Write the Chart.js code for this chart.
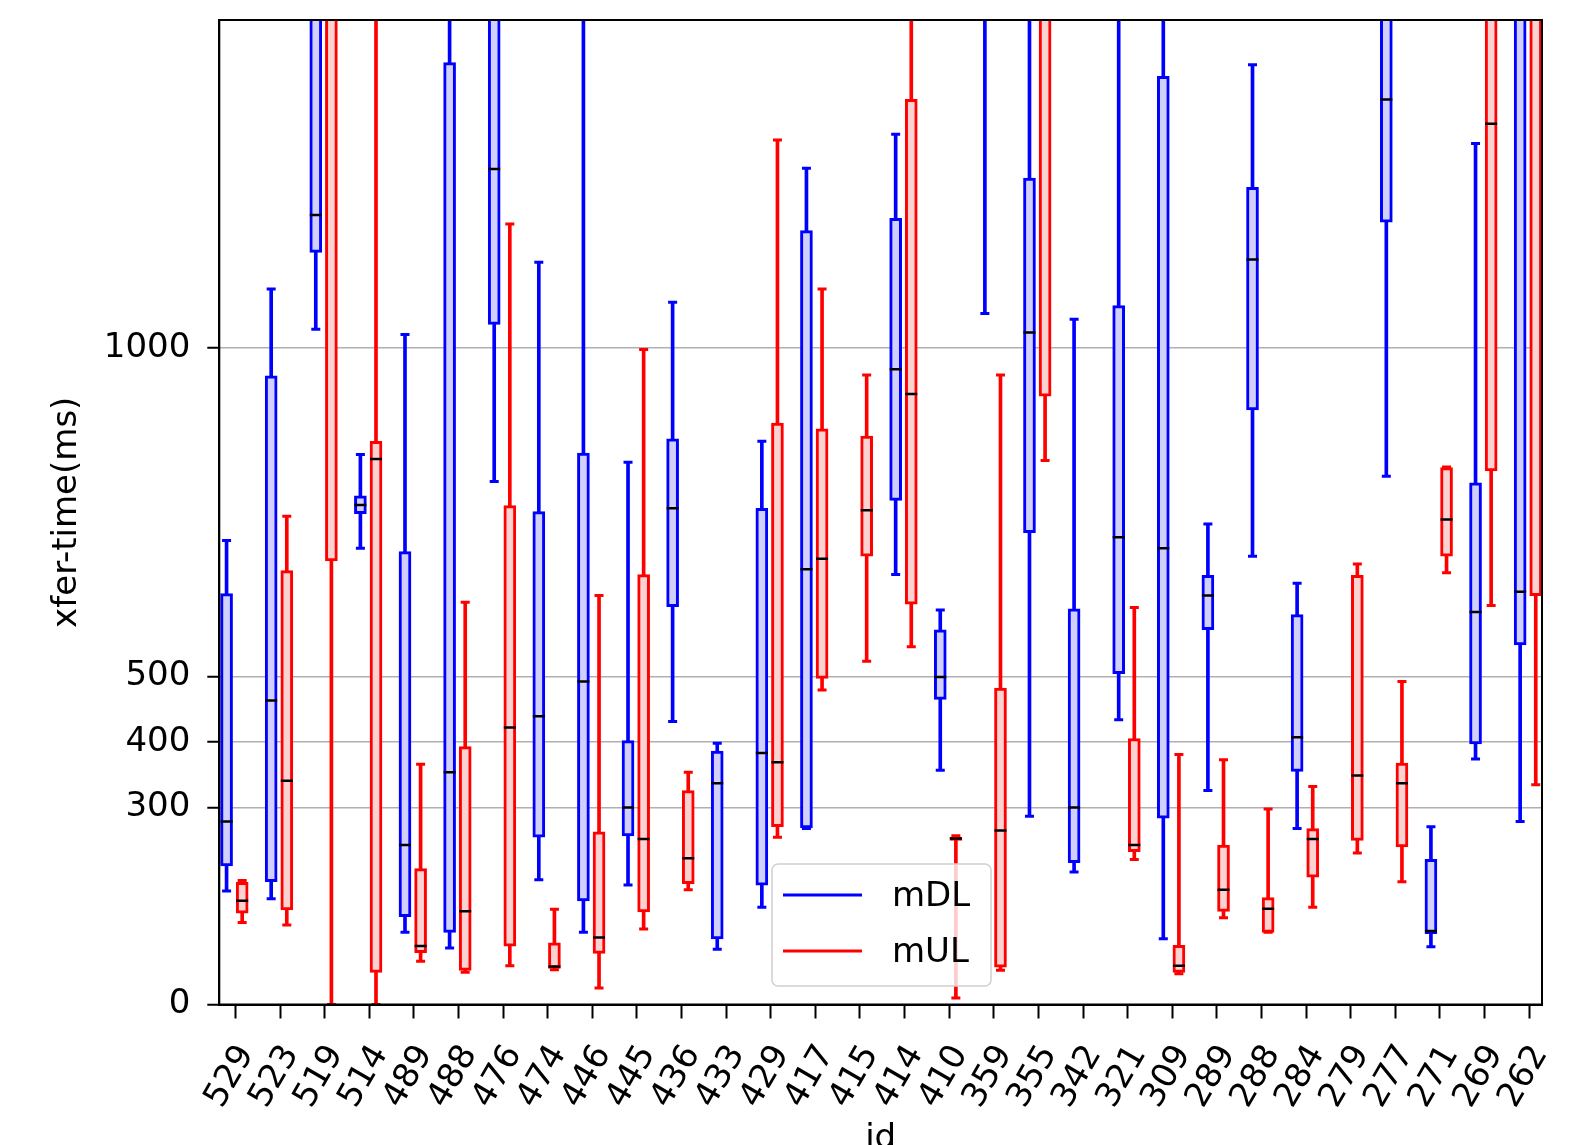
<!DOCTYPE html>
<html>
<head>
<meta charset="utf-8">
<script src="https://cdn.jsdelivr.net/npm/chart.js@4.4.1/dist/chart.umd.min.js"></script>
<style>
  html, body { margin: 0; padding: 0; background: #fff; }
  #wrap { width: 1589px; height: 1145px; overflow: hidden; }
</style>
</head>
<body>
<div id="wrap"><canvas id="chart" width="1589" height="1145"></canvas></div>
<script>
const ids = ["529","523","519","514","489","488","476","474","446","445","436","433","429","417","415",
  "414","410","359","355","342","321","309","289","288","284","279","277","271","269","262"]
const yTicks = [0, 300, 400, 500, 1000]

// mDL: lower whisker, q1, median, q3, upper whisker (null = no box for that id)
const dlMin = [173,161,1029,695,110,86,797,190,110,182,431,84,148,268,null,655,357,1053,287,202,434,100,326,683,268,null,805,88,374,279]
const dlQ1  = [211,187,1146,748,134,110,1036,255,158,257,606,100,182,269,null,768,465,1600,719,216,504,284,571,906,355,null,1192,108,397,548]
const dlMed = [279,463,1203,761,243,354,1273,439,492,300,756,337,383,663,null,968,499,1700,1024,300,712,695,623,1135,407,null,1379,112,598,629]
const dlQ3  = [626,958,1600,775,690,1435,1600,751,840,402,862,386,756,1179,null,1198,571,1800,1259,603,1065,1414,654,1245,594,null,1600,221,795,1600]
const dlMax = [707,1090,1900,838,1021,1700,1900,1131,1700,826,1070,398,858,1274,null,1326,601,2000,1700,1044,1700,1700,732,1432,642,null,1900,271,1312,1900]

// mUL
const ulMin = [125,121,0,0,66,49,59,53,25,115,175,null,255,479,523,545,10,52,829,null,221,47,132,110,148,231,187,658,608,335]
const ulQ1  = [139,144,676,49,79,52,89,55,78,141,184,null,271,497,683,610,250,57,927,null,233,49,142,110,194,250,240,683,813,623]
const ulMed = [158,341,1600,831,89,142,422,58,102,252,223,null,369,679,753,930,253,265,1600,null,243,59,175,146,252,349,337,739,1342,1600]
const ulQ3  = [186,661,1800,858,207,393,760,94,263,655,326,null,886,877,866,1379,255,482,1800,null,405,90,243,163,268,654,368,818,1600,1800]
const ulMax = [189,744,2200,1700,366,613,1189,145,623,998,354,null,1317,1090,959,1700,257,959,2000,null,605,381,373,298,332,671,492,819,1900,2000]

const FONT = "DejaVu Sans"
Chart.defaults.font.family = FONT

function points(offset, values){
  return ids.map((id, i) => values[i] == null ? null : { x: i + offset, y: values[i] }).filter(Boolean)
}

function ranges(offset, lo, hi){
  return ids.map((id, i) => lo[i] == null ? null : { x: i + offset, y: [lo[i], hi[i]] }).filter(Boolean)
}

function boxSeries(label, offset, color, fill, mins, q1, med, q3, maxs){
  return [
    {
      type: "bar", label: label + " whisker", data: ranges(offset, mins, maxs),
      backgroundColor: color, borderWidth: 0, barThickness: 3, grouped: false, order: 3
    },
    {
      type: "bar", label: label, isBox: true, data: ranges(offset, q1, q3),
      backgroundColor: fill, borderColor: color, borderWidth: 3, borderSkipped: false,
      barThickness: 12, grouped: false, order: 2
    },
    {
      type: "scatter", label: label + " caps", data: points(offset, mins).concat(points(offset, maxs)),
      pointStyle: "line", radius: 4.5, borderColor: color, borderWidth: 3, order: 1
    },
    {
      type: "scatter", label: label + " median", data: points(offset, med),
      pointStyle: "line", radius: 6, borderColor: "#000", borderWidth: 2.5, order: 0
    }
  ]
}

const datasets = [].concat(
  boxSeries("mDL", -0.2, "#0000ff", "#d0d0fb", dlMin, dlQ1, dlMed, dlQ3, dlMax),
  boxSeries("mUL", 0.15, "#ff0000", "#fbd2d2", ulMin, ulQ1, ulMed, ulQ3, ulMax)
)

// top/right spines like matplotlib
const framePlugin = {
  id: "frame",
  afterDatasetsDraw(chart){
    const {ctx, chartArea: a} = chart
    ctx.save()
    ctx.strokeStyle = "#000"
    ctx.lineWidth = 2
    ctx.strokeRect(a.left, a.top, a.right - a.left, a.bottom - a.top)
    ctx.restore()
  }
}

// legend drawn inside the plot, near the bottom middle
const boxLegend = {
  id: "boxLegend",
  afterDraw(chart){
    const ctx = chart.ctx
    const entries = chart.data.datasets.filter(d => d.isBox)
    const x = 772, y = 864, w = 219, h = 122
    ctx.save()
    ctx.beginPath()
    ctx.roundRect(x, y, w, h, 6)
    ctx.fillStyle = "rgba(255,255,255,0.8)"
    ctx.fill()
    ctx.strokeStyle = "#d0d0d0"
    ctx.lineWidth = 1.5
    ctx.stroke()
    ctx.font = "34px \"" + FONT + "\""
    ctx.textBaseline = "middle"
    entries.forEach((d, i) => {
      const ly = y + 31 + i * 56
      ctx.strokeStyle = d.borderColor
      ctx.lineWidth = 3
      ctx.beginPath()
      ctx.moveTo(x + 11, ly)
      ctx.lineTo(x + 90, ly)
      ctx.stroke()
      ctx.fillStyle = "#000"
      ctx.fillText(d.label, x + 120, ly + 2)
    })
    ctx.restore()
  }
}

new Chart(document.getElementById("chart"), {
  type: "bar",
  data: { datasets },
  options: {
    responsive: false,
    animation: false,
    events: [],
    layout: { padding: { top: 20, right: 47, left: 0, bottom: 0 } },
    plugins: { legend: { display: false }, tooltip: { enabled: false } },
    scales: {
      x: {
        type: "linear",
        offset: false,
        min: -0.363,
        max: 29.29,
        afterBuildTicks: s => { s.ticks = ids.map((id, i) => ({ value: i })) },
        afterFit: s => { s.height = 140.5; s.paddingLeft = 0; s.paddingRight = 0 },
        ticks: {
          autoSkip: false, minRotation: 60, maxRotation: 60, padding: 20, labelOffset: 11,
          color: "#000", font: { size: 34 },
          callback: v => ids[v]
        },
        grid: { offset: false, drawOnChartArea: false, drawTicks: true, tickLength: 14, tickWidth: 2, tickColor: "#000" },
        border: { color: "#000", width: 2 },
        title: { display: true, text: "id", color: "#000", font: { size: 34 }, padding: { top: 0, bottom: -15 } }
      },
      y: {
        type: "linear",
        min: 0,
        max: 1500,
        stacked: false,
        afterBuildTicks: s => { s.ticks = yTicks.map(v => ({ value: v })) },
        afterFit: s => { s.width = 219.3; s.paddingTop = 0; s.paddingBottom = 0 },
        ticks: { padding: 17, color: "#000", font: { size: 34 }, callback: v => String(v) },
        grid: { color: "#b0b0b0", lineWidth: 1.5, tickLength: 12, tickWidth: 2, tickColor: "#000" },
        border: { color: "#000", width: 2 },
        title: { display: true, text: "xfer-time(ms)", color: "#000", font: { size: 34 }, padding: { top: 47, bottom: 0 } }
      }
    }
  },
  plugins: [framePlugin, boxLegend]
})
</script>
</body>
</html>
